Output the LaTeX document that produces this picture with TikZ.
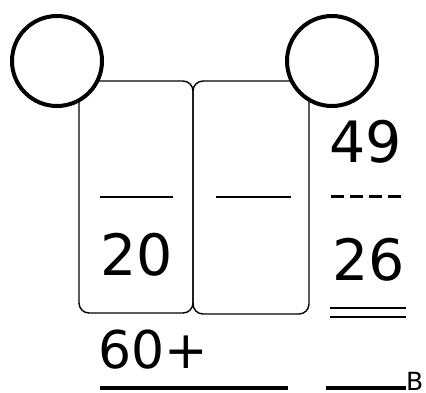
\documentclass[tikz,border=0pt]{standalone}
\usepackage{fontspec}
\setmainfont{DejaVu Sans}
\begin{document}
\begin{tikzpicture}[x=1pt,y=-1pt,
  boxline/.style={line width=1.4pt,rounded corners=10pt},
  ring/.style={circle,draw,line width=4pt,fill=white,minimum size=90pt,inner sep=0pt},
  blank/.style={line width=2pt},
  big/.style={font=\fontsize{57}{57}\selectfont,inner sep=0pt,anchor=base},
  thick/.style={line width=4pt}]
\useasboundingbox (0,0) rectangle (426,393);
\draw[boxline] (79,81) rectangle (193,313);
\draw[boxline] (193,81) rectangle (309,314);
\node[ring] (c1) at (57,61) {};
\node[ring] (c2) at (332,61) {};
\coordinate (l1a) at (100,197); \coordinate (l1b) at (173,197);
\coordinate (l2a) at (216,197); \coordinate (l2b) at (291,197);
\draw[blank] (l1a) -- (l1b);
\draw[blank] (l2a) -- (l2b);
\node[big] (n20) at (137,275) {20};
\node[big] (n49) at (366,163) {49};
\node[big] (n26) at (369,280) {26};
\coordinate (d1) at (331,197); \coordinate (d2) at (404,197);
\draw[line width=3pt,dash pattern=on 13pt off 6pt] (d1) -- (d2);
\coordinate (e1) at (330,308); \coordinate (e2) at (406,308);
\coordinate (f1) at (330,317); \coordinate (f2) at (406,317);
\draw[blank] (e1) -- (e2);
\draw[blank] (f1) -- (f2);
\node[font=\fontsize{52}{52}\selectfont,inner sep=0pt,anchor=base west] (n60) at (98,368) {60+};
\coordinate (g1) at (100,388); \coordinate (g2) at (288,388);
\draw[thick] (g1) -- (g2);
\coordinate (h1) at (326,388); \coordinate (h2) at (406,388);
\draw[thick] (h1) -- (h2);
\node[font=\fontsize{25}{25}\selectfont,inner sep=0pt,anchor=base west] (nB) at (406,390) {B};
\end{tikzpicture}
\end{document}
